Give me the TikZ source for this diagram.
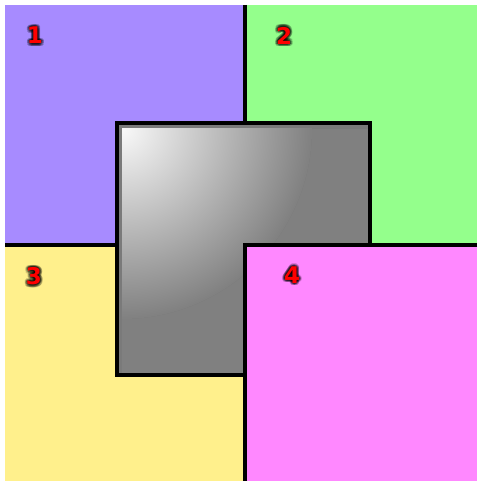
\documentclass[tikz,border=0pt]{standalone}
\usepackage{fontspec}
\newfontfamily\numfont{DejaVu Sans}[BoldFont={DejaVu Sans Bold}]
\definecolor{qone}{RGB}{167,139,255}
\definecolor{qtwo}{RGB}{148,255,140}
\definecolor{qthree}{RGB}{255,240,140}
\definecolor{qfour}{RGB}{255,136,255}
\definecolor{midgray}{RGB}{128,128,128}
\definecolor{bandgray}{RGB}{122,122,122}
\tikzset{
  border/.style={line width=3.5pt, draw=black, line cap=butt},
  numtext/.style={font=\numfont\bfseries\fontsize{23}{23}\selectfont, inner sep=0pt},
  num/.style={numtext, text=red},
  numglow/.style={numtext, text=black, text opacity=0.2},
}
\newcommand\glowdigit[3]{%
  \foreach \a in {0,30,...,330} {\node[numglow, shift={(\a:2.6)}] at (#2) {#3};}
  \foreach \a in {0,45,...,315} {\node[numglow, shift={(\a:1.3)}] at (#2) {#3};}
  \node[num] (#1) at (#2) {#3};}
\begin{document}
\begin{tikzpicture}[x=1pt,y=-1pt]
\useasboundingbox (0,0) rectangle (477,481);
\fill[white] (0,0) rectangle (477,481);
% quadrants 1-3
\fill[qone] (5,5) rectangle (245,245);
\fill[qtwo] (245,5) rectangle (477,245);
\fill[qthree] (5,245) rectangle (245,481);
\coordinate (ta) at (245,5);
\coordinate (tb) at (245,245);
\coordinate (la) at (5,245);
\draw[border] (ta) -- (tb);
\draw[border] (la) -- (tb);
% gray square
\node[draw=black, line width=3.5pt, fill=bandgray, minimum width=253pt, minimum height=252pt,
      inner sep=0pt, path picture={
        \fill[midgray] ([xshift=5pt,yshift=-6pt]path picture bounding box.north west) rectangle
                       (path picture bounding box.south east);
        \begin{scope}
        \clip ([xshift=5pt,yshift=-6pt]path picture bounding box.north west) rectangle
              (path picture bounding box.south east);
        \fill[inner color=white!95!gray, outer color=midgray]
             ([xshift=5pt,yshift=-6pt]path picture bounding box.north west) circle (190pt);
        \end{scope}
      }] (sq) at (243.5,249) {};
% quadrant 4 on top
\fill[qfour] (245,245) rectangle (477,481);
\coordinate (fa) at (477,245);
\coordinate (fb) at (245,245);
\coordinate (fc) at (245,481);
\draw[border] (fa) -- (fb) -- (fc);
% numbers
\glowdigit{n1}{35,35.5}{1}
\glowdigit{n2}{284,35.5}{2}
\glowdigit{n3}{34,276.5}{3}
\glowdigit{n4}{292,275}{4}
\end{tikzpicture}
\end{document}
